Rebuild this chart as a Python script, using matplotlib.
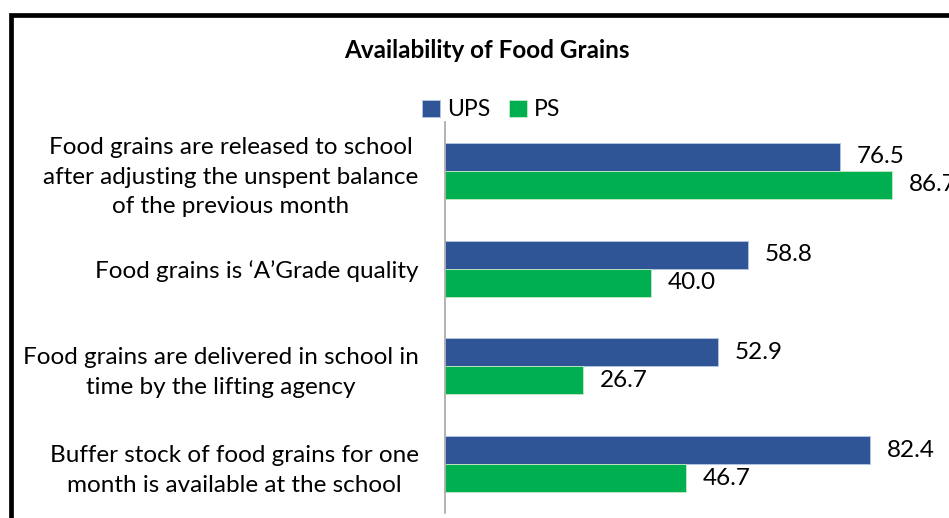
import matplotlib
matplotlib.use("Agg")
import matplotlib.pyplot as plt
from matplotlib.patches import Rectangle
import numpy as np

categories = [
    "Food grains are released to school\nafter adjusting the unspent balance\nof the previous month",
    "Food grains is \u2018A\u2019Grade quality",
    "Food grains are delivered in school in\ntime by the lifting agency",
    "Buffer stock of food grains for one\nmonth is available at the school",
]
ups = [76.5, 58.8, 52.9, 82.4]
ps = [86.7, 40.0, 26.7, 46.7]
series_names = ["UPS", "PS"]
colors = ["#2F5597", "#00B050"]

W, H = 949, 518
fig = plt.figure(figsize=(W / 100, H / 100), dpi=100)
plt.rcParams['font.family'] = ['Lato', 'DejaVu Sans']

ax_l, ax_r, ax_t, ax_b = 445, 949, 122, 513
ax = fig.add_axes([ax_l / W, 1 - ax_b / H, (ax_r - ax_l) / W, (ax_b - ax_t) / H])

n = len(categories)
y = np.arange(n)
bh = 0.286
b1 = ax.barh(y - bh / 2, ups, height=bh, color=colors[0], edgecolor="#B4C7E7", linewidth=0.6, label=series_names[0])
b2 = ax.barh(y + bh / 2, ps, height=bh, color=colors[1], edgecolor="#C5E8C5", linewidth=0.6, label=series_names[1])
ax.set_ylim(n - 0.5, -0.5)
ax.set_xlim(0, (ax_r - ax_l) / 5.16)

fs = 17.5
for bars, vals in ((b1, ups), (b2, ps)):
    for rect, v in zip(bars, vals):
        ax.annotate(f"{v:.1f}", (v, rect.get_y() + rect.get_height() / 2),
                    xytext=(12, 0), textcoords="offset points", va="center", ha="left",
                    fontsize=fs, color="black", annotation_clip=False)

ax.set_yticks(y)
ax.set_yticklabels(categories, fontsize=fs, linespacing=1.5, ha="right", multialignment="center")
ax.tick_params(axis="y", length=0, pad=19)
ax.set_xticks([])
for s in ["top", "right", "bottom"]:
    ax.spines[s].set_visible(False)
ax.spines["left"].set_color("#A6A6A6")
ax.spines["left"].set_linewidth(1.2)

fig.text(487 / W, 1 - 50 / H, "Availability of Food Grains", ha="center", va="center",
         fontsize=17.5, fontweight="bold")

leg = fig.legend(handles=[b1, b2], labels=series_names, loc="center",
                 bbox_to_anchor=(491 / W, 1 - 110 / H), ncol=2, frameon=False,
                 fontsize=16.5, handlelength=0.8, handleheight=0.8, handletextpad=0.3,
                 columnspacing=0.8, borderaxespad=0)

fig.patches.append(Rectangle((10.5 / W, -0.1), 1.2, 1 - 15 / H + 0.1, transform=fig.transFigure,
                             fill=False, edgecolor="black", linewidth=3.4, figure=fig))

fig.savefig("out.png", dpi=100)
